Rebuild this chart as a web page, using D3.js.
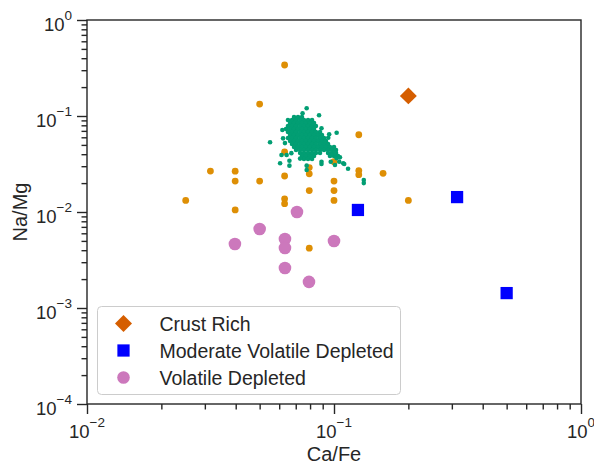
<!DOCTYPE html>
<html>
<head>
<meta charset="utf-8">
<script src="https://cdn.jsdelivr.net/npm/d3@7"></script>
<style>
  body { margin: 0; background: #fff; }
  svg { display: block; font-family: "Liberation Sans", Arial, sans-serif; }
</style>
</head>
<body>
<div id="chart"></div>
<script>
// ---- data (Ca/Fe, Na/Mg) ----
const crustRich = [[0.200, 0.162]];

const moderateDepleted = [[0.125, 0.0105], [0.315, 0.0143], [0.500, 0.00143]];

const volatileDepleted = [
  [0.0708, 0.0100], [0.0500, 0.00665], [0.0397, 0.00464], [0.0633, 0.00523],
  [0.0633, 0.00422], [0.100, 0.00499], [0.0633, 0.00261], [0.0792, 0.00187]
];

const otherSamples = [
  [0.0631, 0.340], [0.0500, 0.133], [0.126, 0.0638], [0.0794, 0.0840],
  [0.100, 0.0432], [0.0631, 0.0422], [0.100, 0.0334], [0.0794, 0.0290],
  [0.0794, 0.0250], [0.0316, 0.0267], [0.0398, 0.0266], [0.0398, 0.0210],
  [0.0500, 0.0210], [0.0631, 0.0237], [0.100, 0.0210], [0.126, 0.0270],
  [0.126, 0.0245], [0.158, 0.0253], [0.0794, 0.0167], [0.100, 0.0167],
  [0.100, 0.0132], [0.0251, 0.0132], [0.0398, 0.0105], [0.0631, 0.0137],
  [0.0631, 0.0122], [0.200, 0.0132], [0.0794, 0.0042]
];

// dense cluster, read row by row
const cluster = [
  [0.0689,0.0976],[0.0715,0.0976],[0.0742,0.0976],
  [0.0651,0.0908],[0.0676,0.0908],[0.0702,0.0908],[0.0729,0.0908],[0.0756,0.0908],[0.0785,0.0908],[0.0815,0.0908],
  [0.0664,0.0845],[0.0689,0.0845],[0.0715,0.0845],[0.0742,0.0845],[0.0770,0.0845],[0.0800,0.0845],[0.0830,0.0845],
  [0.0651,0.0787],[0.0676,0.0787],[0.0702,0.0787],[0.0729,0.0787],[0.0756,0.0787],[0.0785,0.0787],[0.0815,0.0787],[0.0845,0.0787],
  [0.0639,0.0732],[0.0664,0.0732],[0.0689,0.0732],[0.0715,0.0732],[0.0742,0.0732],[0.0770,0.0732],[0.0800,0.0732],[0.0830,0.0732],
  [0.0651,0.0681],[0.0676,0.0681],[0.0702,0.0681],[0.0729,0.0681],[0.0756,0.0681],[0.0785,0.0681],[0.0815,0.0681],[0.0845,0.0681],[0.0878,0.0681],
  [0.0664,0.0634],[0.0689,0.0634],[0.0715,0.0634],[0.0742,0.0634],[0.0770,0.0634],[0.0800,0.0634],[0.0830,0.0634],[0.0861,0.0634],[0.0894,0.0634],
  [0.0651,0.0590],[0.0676,0.0590],[0.0702,0.0590],[0.0729,0.0590],[0.0756,0.0590],[0.0785,0.0590],[0.0815,0.0590],[0.0845,0.0590],[0.0878,0.0590],[0.0911,0.0590],
  [0.0664,0.0549],[0.0689,0.0549],[0.0715,0.0549],[0.0742,0.0549],[0.0770,0.0549],[0.0800,0.0549],[0.0830,0.0549],[0.0861,0.0549],[0.0894,0.0549],[0.0928,0.0549],
  [0.0676,0.0511],[0.0702,0.0511],[0.0729,0.0511],[0.0756,0.0511],[0.0785,0.0511],[0.0815,0.0511],[0.0845,0.0511],[0.0878,0.0511],[0.0911,0.0511],[0.0946,0.0511],
  [0.0689,0.0475],[0.0715,0.0475],[0.0742,0.0475],[0.0770,0.0475],[0.0800,0.0475],[0.0830,0.0475],[0.0861,0.0475],[0.0894,0.0475],[0.0928,0.0475],[0.0963,0.0475],[0.1000,0.0475],
  [0.0702,0.0442],[0.0729,0.0442],[0.0756,0.0442],[0.0785,0.0442],[0.0815,0.0442],[0.0845,0.0442],[0.0878,0.0442],[0.0911,0.0442],[0.0946,0.0442],[0.0981,0.0442],[0.1019,0.0442],
  [0.0729,0.0412],[0.0756,0.0412],[0.0785,0.0412],[0.0815,0.0412],[0.0845,0.0412],[0.0878,0.0412],[0.0946,0.0412],[0.0981,0.0412],[0.1019,0.0412],
  [0.0742,0.0383],[0.0770,0.0383],[0.0800,0.0383],[0.0830,0.0383],[0.0963,0.0383],[0.1000,0.0383],[0.1038,0.0383],
  [0.0756,0.0356],[0.0785,0.0356],[0.0815,0.0356],
  // stragglers around the edge
  [0.0775,0.1203],[0.0746,0.1067],[0.0870,0.1017],[0.0551,0.0532],[0.0618,0.0715],[0.1025,0.0670],
  [0.0956,0.0645],[0.0948,0.0594],[0.0605,0.0322],[0.0660,0.0342],[0.0660,0.0304],[0.0775,0.0304],
  [0.0775,0.0274],[0.114,0.0282],[0.109,0.0322],[0.105,0.0334],[0.0890,0.0334],[0.0970,0.0334],
  [0.1025,0.0363],[0.0920,0.0540],[0.0890,0.0745],[0.0825,0.0839],[0.1009,0.0410],[0.1057,0.0371],
  [0.0978,0.0392],[0.0810,0.0375],[0.0729,0.0360],[0.0672,0.0410],[0.0643,0.0392],[0.0613,0.0392],
  [0.0633,0.0522],[0.0622,0.0585],[0.132,0.0215],[0.132,0.0200],[0.0890,0.0316],[0.1009,0.0309],[0.110,0.0316]
];

const xMajor = [1e-2, 1e-1, 1e0];
const xExp = ['\u22122', '\u22121', '0'];
const yMajor = [1e-4, 1e-3, 1e-2, 1e-1, 1e0];
const yExp = ['\u22124', '\u22123', '\u22122', '\u22121', '0'];

const legendItems = ['Crust Rich', 'Moderate Volatile Depleted', 'Volatile Depleted'];

// ---- layout ----
const W = 594, H = 469;
const margin = { top: 20, right: 13, bottom: 65, left: 87 };
const ink = '#262626';

const svg = d3.select('#chart').append('svg')
  .attr('width', W)
  .attr('height', H);

const x = d3.scaleLog().domain([1e-2, 1]).range([margin.left, W - margin.right]);
const y = d3.scaleLog().domain([1e-4, 1]).range([H - margin.bottom, margin.top]);

// minor ticks (2..9 of each decade)
const minorOf = (lo, hi) => {
  const out = [];
  for (let e = lo; e < hi; e++) for (let m = 2; m <= 9; m++) out.push(m * Math.pow(10, e));
  return out;
};

const xAxisG = svg.append('g').attr('transform', `translate(0,${H - margin.bottom})`);
xAxisG.append('g').call(d3.axisBottom(x).tickValues(minorOf(-2, 0)).tickSize(5.5).tickFormat(''));
xAxisG.append('g').call(d3.axisBottom(x).tickValues(xMajor).tickSize(10).tickFormat(''));

const yAxisG = svg.append('g').attr('transform', `translate(${margin.left},0)`);
yAxisG.append('g').call(d3.axisLeft(y).tickValues(minorOf(-4, 0)).tickSize(5.5).tickFormat(''));
yAxisG.append('g').call(d3.axisLeft(y).tickValues(yMajor).tickSize(10).tickFormat(''));

svg.selectAll('.domain').remove();
svg.selectAll('.tick line').attr('stroke', ink).attr('stroke-width', 1.4);

// tick labels as 10 with superscript
xMajor.forEach((v, i) => {
  const t = svg.append('text')
    .attr('x', x(v)).attr('y', 438)
    .attr('text-anchor', 'middle')
    .attr('fill', ink)
    .style('font-size', '18.5px');
  t.append('tspan').text('10');
  t.append('tspan').attr('dy', -11.5).style('font-size', '13.5px').text(xExp[i]);
});

yMajor.forEach((v, i) => {
  const t = svg.append('text')
    .attr('x', 72).attr('y', y(v) + 11)
    .attr('text-anchor', 'end')
    .attr('fill', ink)
    .style('font-size', '18.5px');
  t.append('tspan').text('10');
  t.append('tspan').attr('dy', -11.5).style('font-size', '13.5px').text(yExp[i]);
});

// frame
svg.append('rect')
  .attr('x', margin.left).attr('y', margin.top)
  .attr('width', W - margin.left - margin.right)
  .attr('height', H - margin.top - margin.bottom)
  .attr('fill', 'none')
  .attr('stroke', ink)
  .attr('stroke-width', 1.4);

// axis titles
svg.append('text')
  .attr('x', (margin.left + W - margin.right) / 2).attr('y', 461)
  .attr('text-anchor', 'middle').attr('fill', ink)
  .style('font-size', '20px')
  .text('Ca/Fe');

svg.append('text')
  .attr('transform', `translate(27,${(margin.top + H - margin.bottom) / 2}) rotate(-90)`)
  .attr('text-anchor', 'middle').attr('fill', ink)
  .style('font-size', '20px')
  .text('Na/Mg');

// ---- marks ----
const plot = svg.append('g');

plot.selectAll('.other').data(otherSamples).enter().append('circle')
  .attr('cx', d => x(d[0])).attr('cy', d => y(d[1]))
  .attr('r', 3.4).attr('fill', '#de8f05');

plot.selectAll('.cluster').data(cluster).enter().append('circle')
  .attr('cx', d => x(d[0])).attr('cy', d => y(d[1]))
  .attr('r', 2.3).attr('fill', '#029e73');

const diamond = d3.symbol().type(d3.symbolSquare).size(144);
const square = d3.symbol().type(d3.symbolSquare).size(150);

plot.selectAll('.vd').data(volatileDepleted).enter().append('circle')
  .attr('cx', d => x(d[0])).attr('cy', d => y(d[1]))
  .attr('r', 6.3).attr('fill', '#cc78bc');

plot.selectAll('.mvd').data(moderateDepleted).enter().append('path')
  .attr('d', square)
  .attr('transform', d => `translate(${x(d[0])},${y(d[1])})`)
  .attr('fill', '#0000ff');

plot.selectAll('.cr').data(crustRich).enter().append('path')
  .attr('d', diamond)
  .attr('transform', d => `translate(${x(d[0])},${y(d[1])}) rotate(45)`)
  .attr('fill', '#d55e00');

// ---- legend ----
const lg = svg.append('g').attr('transform', 'translate(97.5,306.5)');
lg.append('rect')
  .attr('width', 303).attr('height', 88).attr('rx', 4)
  .attr('fill', '#fff').attr('fill-opacity', 0.8)
  .attr('stroke', '#cccccc').attr('stroke-width', 1);

const rowY = [17, 44, 71];
lg.append('path').attr('d', diamond)
  .attr('transform', `translate(26,${rowY[0]}) rotate(45)`).attr('fill', '#d55e00');
lg.append('path').attr('d', square)
  .attr('transform', `translate(26,${rowY[1]})`).attr('fill', '#0000ff');
lg.append('circle').attr('cx', 26).attr('cy', rowY[2]).attr('r', 6.3).attr('fill', '#cc78bc');

lg.selectAll('.lt').data(legendItems).enter().append('text')
  .attr('x', 62).attr('y', (d, i) => rowY[i] + 7)
  .attr('fill', ink)
  .style('font-size', '19.5px')
  .text(d => d);
</script>
</body>
</html>
